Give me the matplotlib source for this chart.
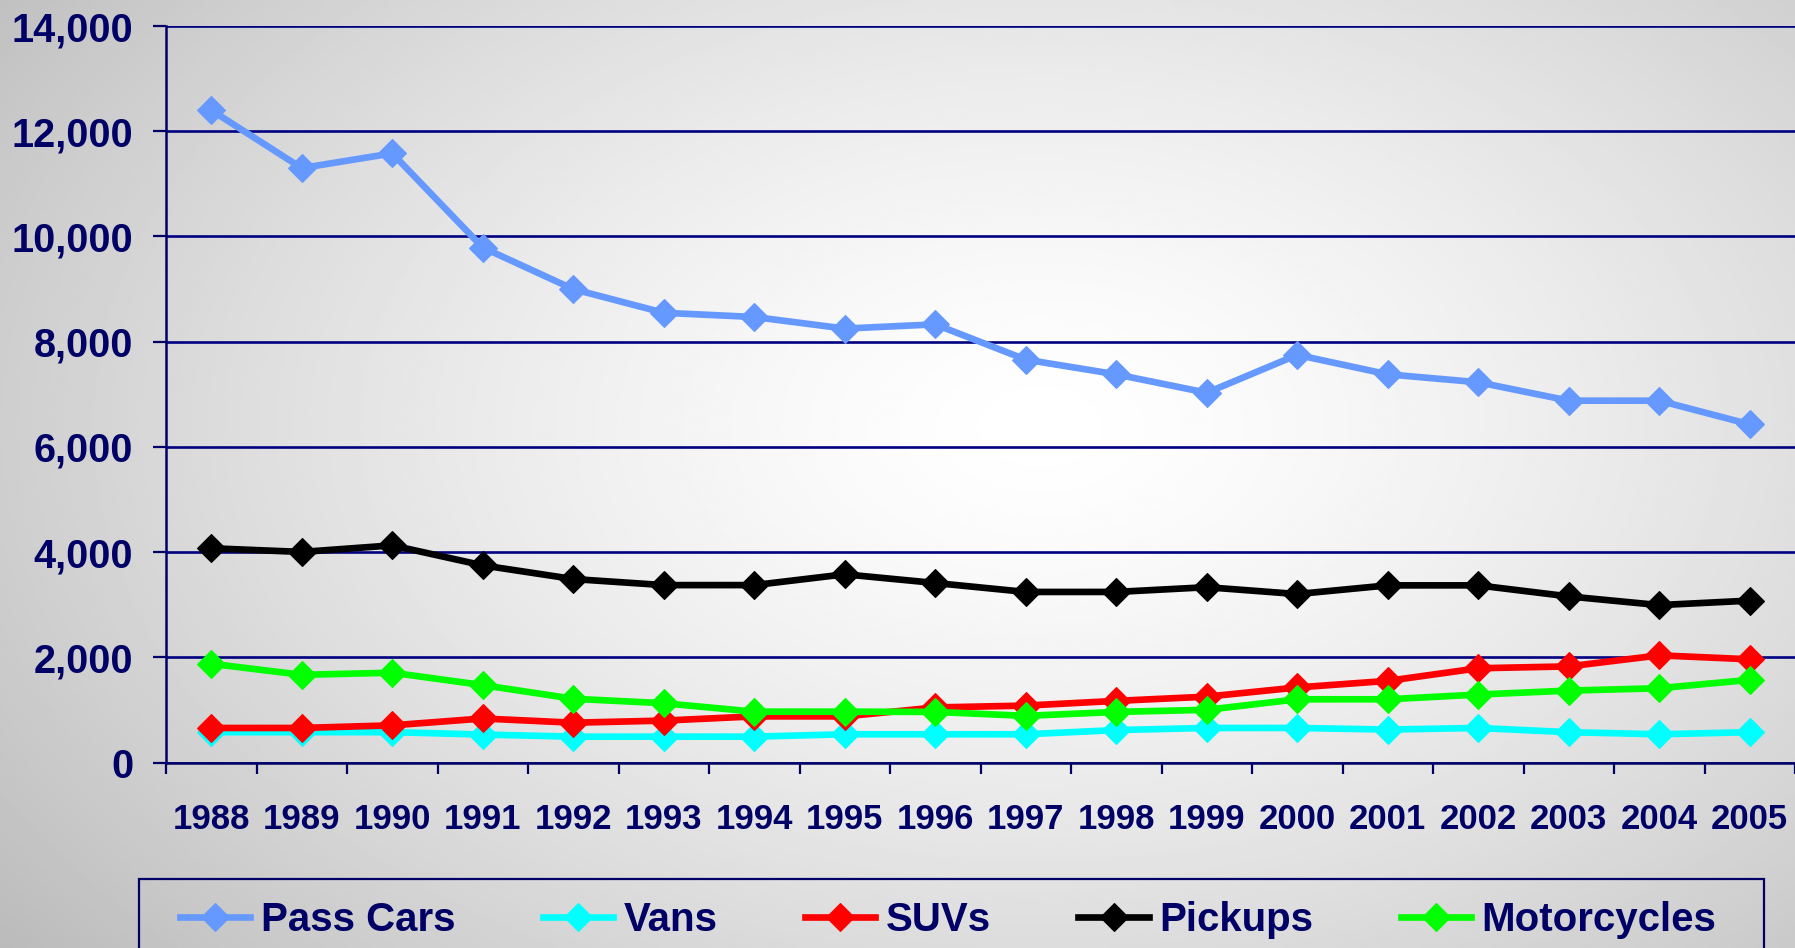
import numpy as np
import matplotlib
matplotlib.use('Agg')
import matplotlib.pyplot as plt
from matplotlib.patches import Rectangle
from matplotlib.ticker import FuncFormatter, FixedLocator

# Dados
anos = ['1988', '1989', '1990', '1991', '1992', '1993', '1994', '1995', '1996',
        '1997', '1998', '1999', '2000', '2001', '2002', '2003', '2004', '2005']

pass_cars = [12400, 11300, 11580, 9790, 9000, 8550, 8470, 8250, 8330,
             7660, 7380, 7030, 7750, 7380, 7230, 6880, 6880, 6430]
vans = [580, 580, 580, 535, 495, 495, 495, 540, 540,
        540, 620, 660, 660, 630, 660, 580, 540, 580]
suvs = [660, 660, 710, 840, 760, 800, 880, 880, 1050,
        1085, 1175, 1255, 1430, 1555, 1795, 1830, 2040, 1965]
pickups = [4075, 4005, 4130, 3750, 3490, 3375, 3375, 3580, 3415,
           3245, 3245, 3335, 3205, 3370, 3370, 3160, 2995, 3080]
motorcycles = [1880, 1670, 1710, 1475, 1215, 1130, 970, 970, 965,
               890, 965, 1005, 1205, 1205, 1295, 1370, 1415, 1575]

series = [('Pass Cars', pass_cars, '#6699FF'),
          ('Vans', vans, '#00FFFF'),
          ('SUVs', suvs, '#FF0000'),
          ('Pickups', pickups, '#000000'),
          ('Motorcycles', motorcycles, '#00FF00')]

navy = '#000066'
plt.rcParams['font.family'] = ['Liberation Sans', 'DejaVu Sans']
plt.rcParams['font.weight'] = 'bold'

W, H = 1795, 948
fig = plt.figure(figsize=(W / 100, H / 100), dpi=100)

# fundo com gradiente cinza -> branco
bg = fig.add_axes([0, 0, 1, 1], zorder=-10)
yy, xx = np.mgrid[0:1:300j, 0:1:600j]
r = np.sqrt(((xx - 0.58) / 0.62) ** 2 + ((yy - 0.55) / 0.75) ** 2)
shade = 1.0 - 0.21 * np.clip(r, 0, 1.3) ** 1.4
bg.imshow(shade, cmap='gray', vmin=0, vmax=1, aspect='auto', origin='lower',
          extent=[0, 1, 0, 1])
bg.axis('off')

ax = fig.add_axes([166 / W, 1 - 762.7 / H, 1 - 166 / W, (762.7 - 26) / H])
ax.set_facecolor('none')

x = np.arange(len(anos))
for nome, valores, cor in series:
    ax.plot(x, valores, color=cor, lw=4.8, marker='D', ms=14, mew=0.8,
            mec=cor, mfc=cor, label=nome, solid_joinstyle='miter')

ax.set_xlim(-0.5, len(anos) - 0.5)
ax.set_ylim(0, 14000)
ax.set_yticks(np.arange(0, 14001, 2000))
ax.yaxis.set_major_formatter(FuncFormatter(lambda v, p: f'{int(v):,}'))
ax.grid(axis='y', color='#000080', lw=1.9)
ax.set_axisbelow(True)

ax.set_xticks(x)
ax.set_xticklabels(anos)
ax.xaxis.set_minor_locator(FixedLocator(np.arange(-0.5, len(anos), 1.0)))
ax.tick_params(axis='x', which='major', length=0, pad=29, labelsize=25,
               labelcolor=navy)
ax.tick_params(axis='x', which='minor', length=8, width=1.6, color=navy,
               direction='out')
ax.tick_params(axis='y', length=9.5, width=1.6, color=navy, pad=14,
               labelsize=28.5, labelcolor=navy)

for lado in ['top', 'right']:
    ax.spines[lado].set_visible(False)
for lado in ['left', 'bottom']:
    ax.spines[lado].set_color(navy)
    ax.spines[lado].set_linewidth(1.8)

# legenda (a moldura continua abaixo da borda da figura)
leg = fig.legend(loc='center left', bbox_to_anchor=(180 / W, 1 - 920 / H, (1716 - 180) / W, 0),
                 mode='expand', ncol=5, fontsize=29, frameon=False,
                 handlelength=1.75, handletextpad=0.25, borderpad=0,
                 borderaxespad=0, columnspacing=1.5)
for t in leg.get_texts():
    t.set_color(navy)
fig.patches.append(Rectangle((139 / W, -0.05), (1764 - 139) / W, 0.05 + 1 - 879 / H,
                             transform=fig.transFigure, fill=False,
                             edgecolor=navy, lw=1.6))

fig.savefig('out.png', dpi=100)
